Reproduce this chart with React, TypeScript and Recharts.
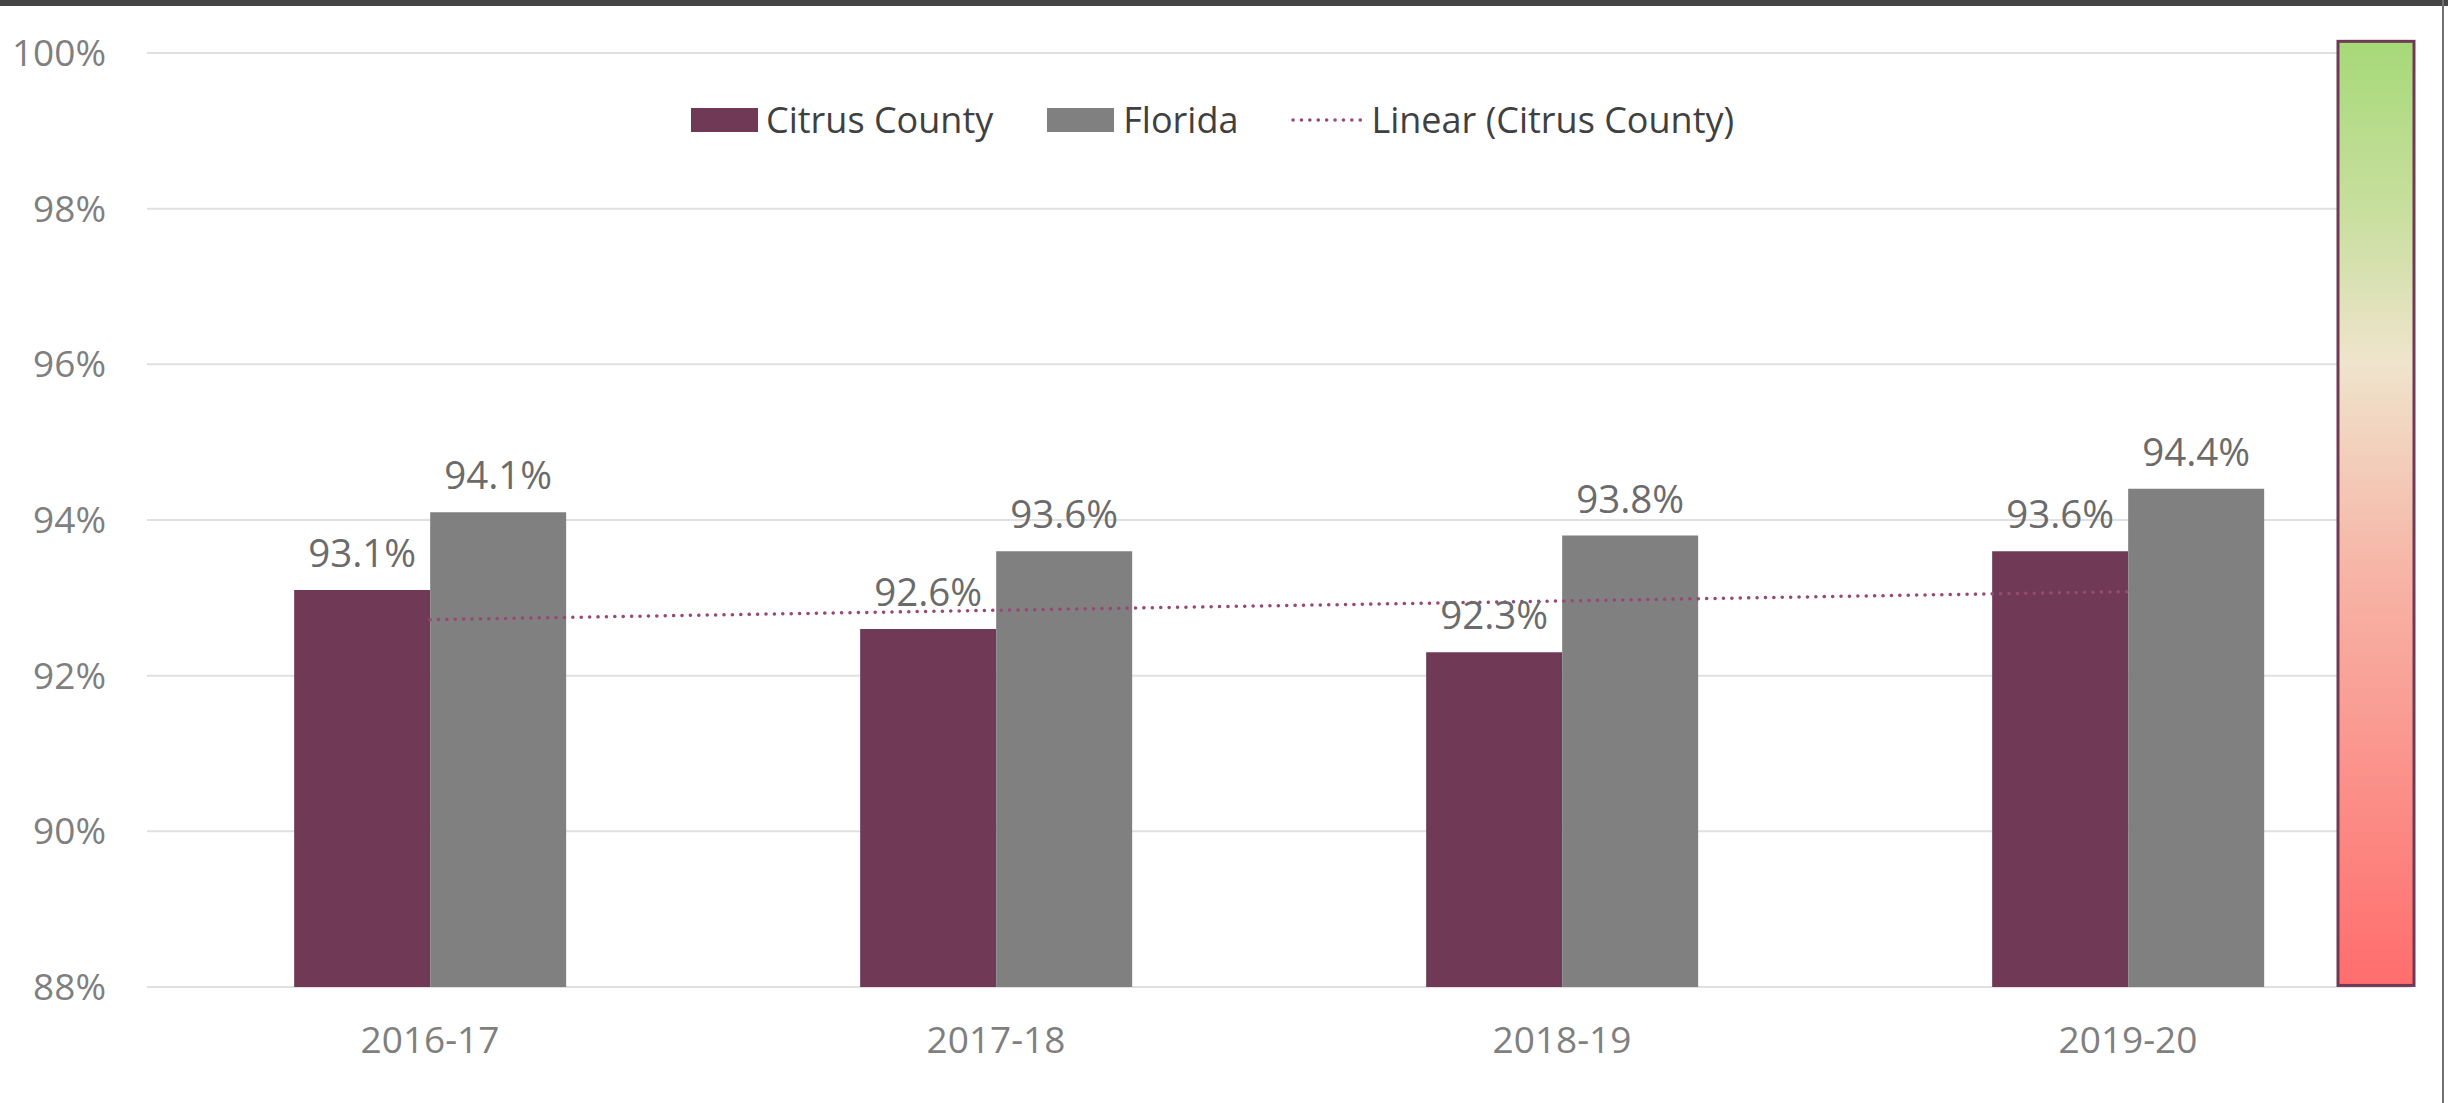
import React from 'react';
import {
  ComposedChart,
  Bar,
  Line,
  XAxis,
  YAxis,
  CartesianGrid,
  LabelList,
  ReferenceArea,
  Legend,
} from 'recharts';

// ---------- data ----------
const categories = ['2016-17', '2017-18', '2018-19', '2019-20'];
const citrusValues = [93.1, 92.6, 92.3, 93.6];
const floridaValues = [94.1, 93.6, 93.8, 94.4];
// Excel "Linear (Citrus County)" trendline
const trendValues = [92.72, 92.84, 92.96, 93.08];
const yTicks = [88, 90, 92, 94, 96, 98, 100];
const seriesNames = ['Citrus County', 'Florida', 'Linear (Citrus County)'];
// colour-scale strip on the right (value extent on the y axis)
const scaleStripY = [88.02, 100.15];

const data = categories.map((c, i) => ({
  category: c,
  citrus: citrusValues[i],
  florida: floridaValues[i],
  trend: trendValues[i],
}));

// ---------- styles ----------
const CITRUS = '#703a56';
const FLORIDA = '#808080';
const TREND = '#974875';
const AXIS_FONT = '"Open Sans", sans-serif';
const LABEL_FONT = '"Open Sans", sans-serif';
const STRIP_WIDTH = 76;
const STRIP_OVERHANG = 3;

const pct = (v: number) => `${Number(v).toFixed(1)}%`;

// draws the colour-scale strip hugging the right end of the plot area
const StripShape = (props: any) => {
  const { x, y, width, height } = props;
  if ([x, y, width, height].some((n) => typeof n !== 'number' || isNaN(n))) return null;
  const right = x + width + STRIP_OVERHANG;
  return (
    <rect
      x={right - STRIP_WIDTH}
      y={y}
      width={STRIP_WIDTH}
      height={height}
      fill="url(#scaleGrad)"
      stroke={CITRUS}
      strokeWidth={3}
    />
  );
};

const renderLegend = () => (
  <div
    style={{
      display: 'flex',
      alignItems: 'center',
      height: 40,
      fontFamily: LABEL_FONT,
      fontSize: 36,
      color: '#404040',
      whiteSpace: 'nowrap',
      lineHeight: 1,
    }}
  >
    <span style={{ width: 67, height: 24, background: CITRUS, flexShrink: 0 }} />
    <span style={{ marginLeft: 8 }}>{seriesNames[0]}</span>
    <span style={{ width: 67, height: 24, background: FLORIDA, flexShrink: 0, marginLeft: 54 }} />
    <span style={{ marginLeft: 9 }}>{seriesNames[1]}</span>
    <svg width={72} height={8} style={{ marginLeft: 53, flexShrink: 0 }}>
      <line x1={2} y1={4} x2={70} y2={4} stroke={TREND} strokeWidth={3.5} strokeDasharray="0.1 8.3" strokeLinecap="round" />
    </svg>
    <span style={{ marginLeft: 8 }}>{seriesNames[2]}</span>
  </div>
);

export default function App() {
  return (
    <div style={{ position: 'relative', width: 2448, height: 1103, background: '#fff', overflow: 'hidden' }}>
      <style>{'body{margin:0;}'}</style>
      <ComposedChart
        width={2448}
        height={1103}
        data={data}
        margin={{ top: 53, right: 37, bottom: 86, left: 0 }}
        barGap={0}
        barCategoryGap="26%"
      >
        <defs>
          <linearGradient id="scaleGrad" x1="0" y1="0" x2="0" y2="1">
            <stop offset="0%" stopColor="#a6d978" />
            <stop offset="18%" stopColor="#c8df9e" />
            <stop offset="34%" stopColor="#efe4cc" />
            <stop offset="55%" stopColor="#f6b7a8" />
            <stop offset="100%" stopColor="#ff6d6d" />
          </linearGradient>
        </defs>
        <CartesianGrid vertical={false} stroke="#e0e0e0" strokeWidth={2} />
        <XAxis
          dataKey="category"
          height={30}
          axisLine={false}
          tickLine={false}
          tickSize={0}
          tickMargin={40}
          tick={{ fill: '#7f7f7f', fontSize: 37, fontFamily: AXIS_FONT }}
        />
        <YAxis
          domain={[88, 100]}
          ticks={yTicks}
          tickFormatter={(v: number) => `${v}%`}
          width={147}
          axisLine={false}
          tickLine={false}
          tickSize={0}
          tickMargin={41}
          allowDataOverflow
          tick={{ fill: '#7f7f7f', fontSize: 37, fontFamily: AXIS_FONT }}
        />
        <Bar dataKey="citrus" name={seriesNames[0]} fill={CITRUS} isAnimationActive={false}>
          <LabelList
            dataKey="citrus"
            position="top"
            offset={23}
            formatter={pct}
            fill="#6b6b6b"
            fontSize={38.5}
            fontFamily={LABEL_FONT}
          />
        </Bar>
        <Bar dataKey="florida" name={seriesNames[1]} fill={FLORIDA} isAnimationActive={false}>
          <LabelList
            dataKey="florida"
            position="top"
            offset={23}
            formatter={pct}
            fill="#6b6b6b"
            fontSize={38.5}
            fontFamily={LABEL_FONT}
          />
        </Bar>
        <Line
          dataKey="trend"
          name={seriesNames[2]}
          type="linear"
          stroke={TREND}
          strokeWidth={3.5}
          strokeDasharray="0.1 8.3"
          strokeLinecap="round"
          dot={false}
          activeDot={false}
          isAnimationActive={false}
        />
        <ReferenceArea
          y1={scaleStripY[0]}
          y2={scaleStripY[1]}
          ifOverflow="visible"
          shape={StripShape}
        />
        <Legend
          content={renderLegend}
          layout="horizontal"
          verticalAlign="middle"
          align="center"
          wrapperStyle={{ top: 100, left: 691, width: 1300, height: 40 }}
        />
      </ComposedChart>
      <div style={{ position: 'absolute', left: 0, top: 0, width: 2448, height: 6, background: '#454545' }} />
      <div style={{ position: 'absolute', left: 2442, top: 0, width: 2, height: 1103, background: '#707070' }} />
    </div>
  );
}
